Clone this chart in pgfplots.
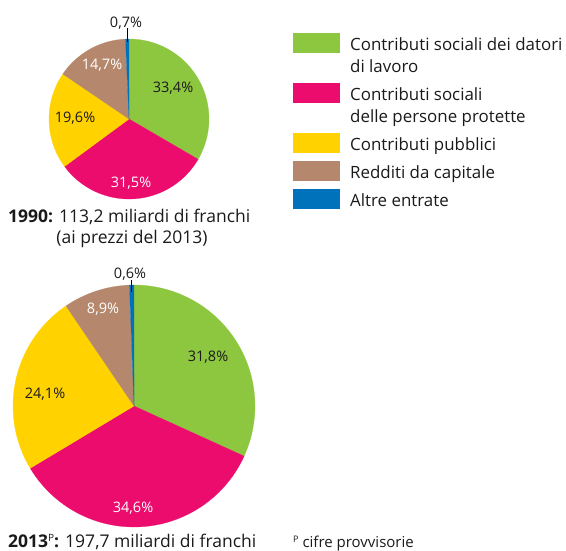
\documentclass[border=0pt]{standalone}
\usepackage{fontspec}
\setmainfont{Open Sans}
\usepackage{pgfplots}
\pgfplotsset{compat=1.18}
\definecolor{cgreen}{HTML}{8DC63F}
\definecolor{cpink}{HTML}{EC0C6E}
\definecolor{cyellow}{HTML}{FFD200}
\definecolor{cbrown}{HTML}{B5886D}
\definecolor{cblue}{HTML}{0072BC}
\definecolor{ctext}{HTML}{1A1A1A}

% slice: centre x, centre y, radius, from %, to % (clockwise from top), colour
\newcommand{\slice}[6]{%
  \addplot[fill=#6,draw=#6,line width=0.2pt,domain=#4*3.6:#5*3.6,samples=90,variable=\t]
    ({#1+#3*sin(\t)},{#2-#3*cos(\t)}) -- (axis cs:#1,#2) -- cycle;}
\newcommand{\pct}{\fontsize{14.5}{16}\selectfont}
\newcommand{\leg}{\fontsize{16.9}{21}\selectfont}

\begin{document}
\begin{tikzpicture}
\begin{axis}[
  at={(0,0)},anchor=south west,
  width=566pt,height=550pt,scale only axis,
  xmin=0,xmax=566,ymin=0,ymax=550,y dir=reverse,
  hide axis,clip=false]

% 1990: 113,2 miliardi
\slice{129}{119}{80}{0}{33.4}{cgreen}
\slice{129}{119}{80}{33.4}{64.9}{cpink}
\slice{129}{119}{80}{64.9}{84.5}{cyellow}
\slice{129}{119}{80}{84.5}{99.3}{cbrown}
\slice{129}{119}{80}{99.3}{100}{cblue}

% 2013: 197,7 miliardi
\slice{134}{406}{121}{0}{31.8}{cgreen}
\slice{134}{406}{121}{31.8}{66.4}{cpink}
\slice{134}{406}{121}{66.4}{90.5}{cyellow}
\slice{134}{406}{121}{90.5}{99.4}{cbrown}
\slice{134}{406}{121}{99.4}{100}{cblue}

% leader lines
\draw[black,line width=1.1pt] (axis cs:127.5,28) -- (axis cs:127.5,42);
\draw[black,line width=1.1pt] (axis cs:131.5,280) -- (axis cs:131.5,292);

% percentage labels
\node[anchor=base,text=ctext] at (axis cs:126,27) {\pct 0,7\%};
\node[anchor=base,text=ctext] at (axis cs:173,92) {\pct 33,4\%};
\node[anchor=base,text=white] at (axis cs:131,187) {\pct 31,5\%};
\node[anchor=base,text=ctext] at (axis cs:75,122) {\pct 19,6\%};
\node[anchor=base,text=white] at (axis cs:102,69) {\pct 14,7\%};

\node[anchor=base,text=ctext] at (axis cs:130,278) {\pct 0,6\%};
\node[anchor=base,text=ctext] at (axis cs:208,361) {\pct 31,8\%};
\node[anchor=base,text=white] at (axis cs:133,512) {\pct 34,6\%};
\node[anchor=base,text=ctext] at (axis cs:45,398) {\pct 24,1\%};
\node[anchor=base,text=white] at (axis cs:103,313) {\pct 8,9\%};

% captions
\node[anchor=base west,text=ctext,inner sep=0pt] at (axis cs:8,222)
  {\fontsize{17.5}{21}\selectfont\textbf{1990:} 113,2 miliardi di franchi};
\node[anchor=base,text=ctext,inner sep=0pt] at (axis cs:132,243)
  {\fontsize{17.5}{21}\selectfont(ai prezzi del 2013)};
\node[anchor=base west,text=ctext,inner sep=0pt] at (axis cs:8,547)
  {\fontsize{17.5}{21}\selectfont\textbf{2013}\raisebox{0.55ex}{\fontsize{10}{10}\selectfont P}\textbf{:} 197,7 miliardi di franchi};
\node[anchor=base west,text=ctext,inner sep=0pt] at (axis cs:293,547)
  {\fontsize{15}{18}\selectfont\raisebox{0.5ex}{\fontsize{9}{9}\selectfont P} cifre provvisorie};

% legend
\fill[cgreen] (axis cs:293,33) rectangle (axis cs:340,53);
\fill[cpink] (axis cs:293,83) rectangle (axis cs:340,103);
\fill[cyellow] (axis cs:293,133) rectangle (axis cs:340,153);
\fill[cbrown] (axis cs:293,161) rectangle (axis cs:340,181);
\fill[cblue] (axis cs:293,189) rectangle (axis cs:340,209);
\node[anchor=base west,text=ctext,inner sep=0pt] at (axis cs:350,50) {\leg Contributi sociali dei datori};
\node[anchor=base west,text=ctext,inner sep=0pt] at (axis cs:350,72) {\leg di lavoro};
\node[anchor=base west,text=ctext,inner sep=0pt] at (axis cs:350,100) {\leg Contributi sociali};
\node[anchor=base west,text=ctext,inner sep=0pt] at (axis cs:350,122) {\leg delle persone protette};
\node[anchor=base west,text=ctext,inner sep=0pt] at (axis cs:350,150) {\leg Contributi pubblici};
\node[anchor=base west,text=ctext,inner sep=0pt] at (axis cs:350,178) {\leg Redditi da capitale};
\node[anchor=base west,text=ctext,inner sep=0pt] at (axis cs:350,206) {\leg Altre entrate};
\end{axis}
% the page is exactly the frame of the axis
\pgfresetboundingbox
\useasboundingbox (0,0) rectangle (566pt,550pt);
\end{tikzpicture}
\end{document}
